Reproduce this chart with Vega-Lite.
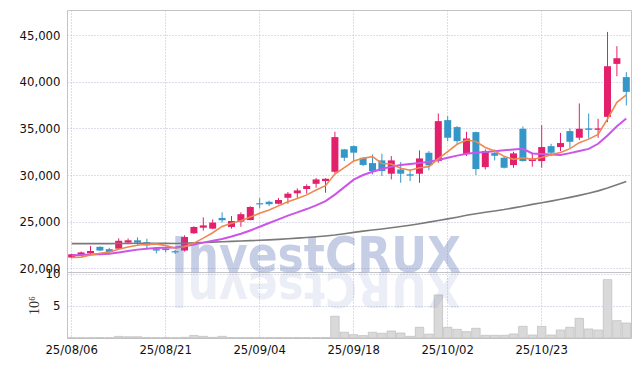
{
  "$schema": "https://vega.github.io/schema/vega-lite/v6.json",
  "background": "white",
  "padding": {"left": 18, "top": 9, "right": 8, "bottom": 5},
  "bounds": "flush",
  "spacing": 0,
  "datasets": {
    "stock": [
      {"d": "25/08/06", "o": 21150, "h": 21550, "l": 21050, "c": 21500, "v": 0.05, "ma5": 21150, "ma20": 21400, "ma120": 22640},
      {"d": "25/08/07", "o": 21450, "h": 21800, "l": 21400, "c": 21700, "v": 0.04, "ma5": 21200, "ma20": 21430, "ma120": 22640},
      {"d": "25/08/08", "o": 21600, "h": 22400, "l": 21550, "c": 21850, "v": 0.05, "ma5": 21420, "ma20": 21470, "ma120": 22640},
      {"d": "25/08/11", "o": 22300, "h": 22350, "l": 21850, "c": 21900, "v": 0.06, "ma5": 21620, "ma20": 21510, "ma120": 22640},
      {"d": "25/08/12", "o": 22050, "h": 22200, "l": 21500, "c": 21750, "v": 0.05, "ma5": 21740, "ma20": 21560, "ma120": 22640},
      {"d": "25/08/13", "o": 22100, "h": 23215, "l": 22000, "c": 22950, "v": 0.25, "ma5": 22030, "ma20": 21700, "ma120": 22650},
      {"d": "25/08/14", "o": 22750, "h": 23200, "l": 22600, "c": 23000, "v": 0.2, "ma5": 22290, "ma20": 21850, "ma120": 22660},
      {"d": "25/08/18", "o": 23000, "h": 23320, "l": 22500, "c": 22750, "v": 0.2, "ma5": 22470, "ma20": 22000, "ma120": 22680},
      {"d": "25/08/19", "o": 22800, "h": 23170, "l": 22100, "c": 22450, "v": 0.08, "ma5": 22580, "ma20": 22100, "ma120": 22690},
      {"d": "25/08/20", "o": 22050, "h": 22100, "l": 21600, "c": 21900, "v": 0.05, "ma5": 22620, "ma20": 22180, "ma120": 22680},
      {"d": "25/08/21", "o": 22100, "h": 22300, "l": 21700, "c": 21950, "v": 0.06, "ma5": 22430, "ma20": 22210, "ma120": 22670},
      {"d": "25/08/22", "o": 21830, "h": 21960, "l": 21530, "c": 21700, "v": 0.05, "ma5": 22180, "ma20": 22230, "ma120": 22660},
      {"d": "25/08/25", "o": 21900, "h": 23530, "l": 21800, "c": 23350, "v": 0.1, "ma5": 22300, "ma20": 22350, "ma120": 22680},
      {"d": "25/08/26", "o": 23750, "h": 24500, "l": 23680, "c": 24430, "v": 0.4, "ma5": 22700, "ma20": 22550, "ma120": 22720},
      {"d": "25/08/27", "o": 24350, "h": 25450, "l": 24050, "c": 24600, "v": 0.26, "ma5": 23230, "ma20": 22750, "ma120": 22760},
      {"d": "25/08/28", "o": 24250, "h": 25250, "l": 24200, "c": 24900, "v": 0.1, "ma5": 23810, "ma20": 22950, "ma120": 22800},
      {"d": "25/08/29", "o": 25400, "h": 26000, "l": 24900, "c": 25150, "v": 0.26, "ma5": 24490, "ma20": 23150, "ma120": 22840},
      {"d": "25/09/01", "o": 24430, "h": 25600, "l": 24250, "c": 25070, "v": 0.08, "ma5": 24830, "ma20": 23400, "ma120": 22880},
      {"d": "25/09/02", "o": 25000, "h": 26000, "l": 24450, "c": 25800, "v": 0.08, "ma5": 25100, "ma20": 23700, "ma120": 22920},
      {"d": "25/09/03", "o": 25170, "h": 26650, "l": 25150, "c": 26570, "v": 0.08, "ma5": 25500, "ma20": 24050, "ma120": 22960},
      {"d": "25/09/04", "o": 26980, "h": 27550, "l": 26450, "c": 26850, "v": 0.06, "ma5": 25890, "ma20": 24450, "ma120": 23000},
      {"d": "25/09/05", "o": 27130, "h": 27250, "l": 26680, "c": 26870, "v": 0.06, "ma5": 26240, "ma20": 24850, "ma120": 23050},
      {"d": "25/09/08", "o": 26920, "h": 27550, "l": 26850, "c": 27320, "v": 0.06, "ma5": 26690, "ma20": 25250, "ma120": 23100},
      {"d": "25/09/09", "o": 27560, "h": 28180, "l": 26920, "c": 28000, "v": 0.06, "ma5": 27130, "ma20": 25650, "ma120": 23160},
      {"d": "25/09/10", "o": 28040, "h": 28570, "l": 27560, "c": 28350, "v": 0.06, "ma5": 27490, "ma20": 26000, "ma120": 23230},
      {"d": "25/09/11", "o": 28500, "h": 29000, "l": 28000, "c": 28820, "v": 0.06, "ma5": 27870, "ma20": 26350, "ma120": 23300},
      {"d": "25/09/12", "o": 29060, "h": 29680, "l": 28640, "c": 29530, "v": 0.06, "ma5": 28400, "ma20": 26750, "ma120": 23380},
      {"d": "25/09/15", "o": 29350, "h": 29650, "l": 28100, "c": 29600, "v": 0.08, "ma5": 28860, "ma20": 27200, "ma120": 23460},
      {"d": "25/09/16", "o": 30350, "h": 34650, "l": 30150, "c": 34070, "v": 3.4, "ma5": 30100, "ma20": 27900, "ma120": 23560},
      {"d": "25/09/17", "o": 32750, "h": 32800, "l": 31500, "c": 31850, "v": 0.9, "ma5": 30800, "ma20": 28700, "ma120": 23700},
      {"d": "25/09/18", "o": 33100, "h": 33180, "l": 31500, "c": 32400, "v": 0.52, "ma5": 31500, "ma20": 29500, "ma120": 23850},
      {"d": "25/09/19", "o": 31850, "h": 31900, "l": 30950, "c": 31080, "v": 0.38, "ma5": 31800, "ma20": 30000, "ma120": 23980},
      {"d": "25/09/22", "o": 31280, "h": 32200, "l": 30070, "c": 30430, "v": 0.9, "ma5": 31970, "ma20": 30350, "ma120": 24100},
      {"d": "25/09/23", "o": 31570, "h": 32280, "l": 29890, "c": 30430, "v": 0.73, "ma5": 31240, "ma20": 30650, "ma120": 24220},
      {"d": "25/09/24", "o": 30140, "h": 32030, "l": 29530, "c": 31570, "v": 1.09, "ma5": 31180, "ma20": 30900, "ma120": 24350},
      {"d": "25/09/25", "o": 30600, "h": 31390, "l": 29170, "c": 30140, "v": 0.78, "ma5": 30730, "ma20": 31080, "ma120": 24480},
      {"d": "25/09/26", "o": 30080, "h": 30600, "l": 29350, "c": 29930, "v": 0.26, "ma5": 30510, "ma20": 31180, "ma120": 24620},
      {"d": "25/09/29", "o": 30140, "h": 32640, "l": 29170, "c": 31780, "v": 1.67, "ma5": 30780, "ma20": 31300, "ma120": 24780},
      {"d": "25/09/30", "o": 32390, "h": 32570, "l": 30500, "c": 31040, "v": 0.6, "ma5": 30900, "ma20": 31420, "ma120": 24950},
      {"d": "25/10/01", "o": 31500, "h": 36600, "l": 31320, "c": 35780, "v": 6.72, "ma5": 31750, "ma20": 31620, "ma120": 25120},
      {"d": "25/10/02", "o": 35890, "h": 36320, "l": 33640, "c": 34000, "v": 1.67, "ma5": 32520, "ma20": 31850, "ma120": 25300},
      {"d": "25/10/10", "o": 35140, "h": 35250, "l": 33350, "c": 33640, "v": 1.35, "ma5": 33300, "ma20": 32080, "ma120": 25480},
      {"d": "25/10/13", "o": 32280, "h": 34640, "l": 32030, "c": 33920, "v": 0.99, "ma5": 33750, "ma20": 32280, "ma120": 25680},
      {"d": "25/10/14", "o": 34600, "h": 34650, "l": 30000, "c": 30640, "v": 1.51, "ma5": 33600, "ma20": 32380, "ma120": 25850},
      {"d": "25/10/15", "o": 30850, "h": 32750, "l": 30600, "c": 32570, "v": 0.42, "ma5": 32950, "ma20": 32460, "ma120": 26000},
      {"d": "25/10/16", "o": 32350, "h": 32750, "l": 31570, "c": 32070, "v": 0.42, "ma5": 32570, "ma20": 32550, "ma120": 26150},
      {"d": "25/10/17", "o": 31850, "h": 32000, "l": 30700, "c": 30780, "v": 0.42, "ma5": 32000, "ma20": 32650, "ma120": 26300},
      {"d": "25/10/20", "o": 31070, "h": 32500, "l": 30780, "c": 32320, "v": 0.63, "ma5": 31680, "ma20": 32750, "ma120": 26480},
      {"d": "25/10/21", "o": 34960, "h": 35210, "l": 31450, "c": 31500, "v": 1.82, "ma5": 31850, "ma20": 32810, "ma120": 26660},
      {"d": "25/10/22", "o": 31500, "h": 32400, "l": 30890, "c": 31750, "v": 0.47, "ma5": 31680, "ma20": 32320, "ma120": 26850},
      {"d": "25/10/23", "o": 31500, "h": 35350, "l": 30780, "c": 33000, "v": 1.82, "ma5": 31870, "ma20": 32250, "ma120": 27020},
      {"d": "25/10/24", "o": 33100, "h": 33350, "l": 32030, "c": 32390, "v": 0.47, "ma5": 32190, "ma20": 32200, "ma120": 27200},
      {"d": "25/10/27", "o": 33000, "h": 34530, "l": 32570, "c": 33430, "v": 1.25, "ma5": 32410, "ma20": 32150, "ma120": 27400},
      {"d": "25/10/28", "o": 34710, "h": 35000, "l": 32920, "c": 33570, "v": 1.67, "ma5": 32830, "ma20": 32350, "ma120": 27600},
      {"d": "25/10/29", "o": 34000, "h": 37680, "l": 33750, "c": 34960, "v": 3.07, "ma5": 33470, "ma20": 32570, "ma120": 27820},
      {"d": "25/10/30", "o": 35000, "h": 36600, "l": 33930, "c": 34850, "v": 1.41, "ma5": 33850, "ma20": 32800, "ma120": 28050},
      {"d": "25/10/31", "o": 34850, "h": 36030, "l": 34000, "c": 35000, "v": 1.25, "ma5": 34360, "ma20": 33350, "ma120": 28300},
      {"d": "25/11/03", "o": 36240, "h": 45350, "l": 35670, "c": 41670, "v": 9.11, "ma5": 36010, "ma20": 34250, "ma120": 28600},
      {"d": "25/11/04", "o": 41920, "h": 43820, "l": 40600, "c": 42530, "v": 2.71, "ma5": 37800, "ma20": 35240, "ma120": 28950},
      {"d": "25/11/05", "o": 40500, "h": 41030, "l": 37460, "c": 38920, "v": 2.34, "ma5": 38600, "ma20": 36070, "ma120": 29300}
    ]
  },
  "config": {
    "view": {"stroke": "#c4c4c4", "strokeWidth": 1},
    "axis": {
      "domain": false,
      "ticks": false,
      "gridColor": "#b9bfd6",
      "gridDash": [1, 2],
      "gridWidth": 1,
      "labelColor": "#111111",
      "labelFont": "DejaVu Sans Condensed, DejaVu Sans",
      "labelFontSize": 13,
      "title": null
    }
  },
  "vconcat": [
    {
      "width": 564,
      "height": 262,
      "data": {"name": "stock"},
      "encoding": {
        "x": {
          "field": "d", "type": "ordinal", "sort": null,
          "scale": {"paddingInner": 0, "paddingOuter": 0},
          "axis": {"values": ["25/08/06", "25/08/21", "25/09/04", "25/09/18", "25/10/02", "25/10/23"], "labels": false, "grid": true, "bandPosition": 0.5, "title": null}
        }
      },
      "layer": [
        {
          "mark": {"type": "rule", "strokeWidth": 1},
          "encoding": {
            "y": {"field": "l", "type": "quantitative", "scale": {"domain": [19600, 47700], "nice": false, "zero": false},
                  "axis": {"values": [20000, 25000, 30000, 35000, 40000, 45000], "format": ",.0f", "labelPadding": 7, "grid": true, "title": null}},
            "y2": {"field": "h"},
            "color": {"condition": {"test": "datum.c >= datum.o", "value": "#e3206b"}, "value": "#3596c8"}
          }
        },
        {
          "mark": {"type": "bar", "size": 7},
          "encoding": {
            "y": {"field": "o", "type": "quantitative"},
            "y2": {"field": "c"},
            "color": {"condition": {"test": "datum.c >= datum.o", "value": "#e3206b"}, "value": "#3596c8"}
          }
        },
        {
          "mark": {"type": "line", "color": "#7a7a7a", "strokeWidth": 1.6},
          "encoding": {"y": {"field": "ma120", "type": "quantitative"}}
        },
        {
          "mark": {"type": "line", "color": "#cc55e8", "strokeWidth": 2},
          "encoding": {"y": {"field": "ma20", "type": "quantitative"}}
        },
        {
          "mark": {"type": "line", "color": "#ee8850", "strokeWidth": 1.6},
          "encoding": {"y": {"field": "ma5", "type": "quantitative"}}
        },
        {
          "data": {"values": [{"wm": "InvestCRUX"}]},
          "mark": {"type": "text", "font": "DejaVu Sans Condensed, DejaVu Sans", "fontWeight": "bold", "fontSize": 49, "align": "center", "baseline": "alphabetic", "color": "#6279b8", "opacity": 0.36},
          "encoding": {
            "x": {"datum": "25/09/12", "type": "ordinal"},
            "y": {"datum": 19650, "type": "quantitative"},
            "text": {"field": "wm"}
          }
        }
      ]
    },
    {
      "width": 564,
      "height": 66,
      "data": {"name": "stock"},
      "encoding": {
        "x": {
          "field": "d", "type": "ordinal", "sort": null,
          "scale": {"paddingInner": 0, "paddingOuter": 0},
          "axis": {"values": ["25/08/06", "25/08/21", "25/09/04", "25/09/18", "25/10/02", "25/10/23"], "labelAngle": 0, "labelPadding": 5, "grid": true, "bandPosition": 0.5, "title": null}
        }
      },
      "layer": [
        {
          "mark": {"type": "bar", "size": 8.5, "fill": "#d9d9d9", "stroke": "#bdbdbd", "strokeWidth": 0.7},
          "encoding": {
            "y": {"field": "v", "type": "quantitative", "scale": {"domain": [0, 10.3], "nice": false},
                  "axis": {"values": [5, 10], "labelPadding": 7, "grid": true, "minExtent": 20, "maxExtent": 20,
                           "title": "10⁶", "titleFont": "Liberation Serif", "titleFontSize": 14, "titleFontWeight": "normal", "titleColor": "#333333", "titlePadding": 6}}
          }
        },
        {
          "data": {"values": [{"wm": "XURCtsevnI"}]},
          "mark": {"type": "text", "font": "DejaVu Sans Condensed, DejaVu Sans", "fontWeight": "bold", "fontSize": 49, "align": "center", "baseline": "alphabetic", "angle": 180, "color": "#6279b8", "opacity": 0.12},
          "encoding": {
            "x": {"datum": "25/09/12", "type": "ordinal"},
            "y": {"datum": 10.3, "type": "quantitative"},
            "text": {"field": "wm"}
          }
        }
      ]
    }
  ]
}
